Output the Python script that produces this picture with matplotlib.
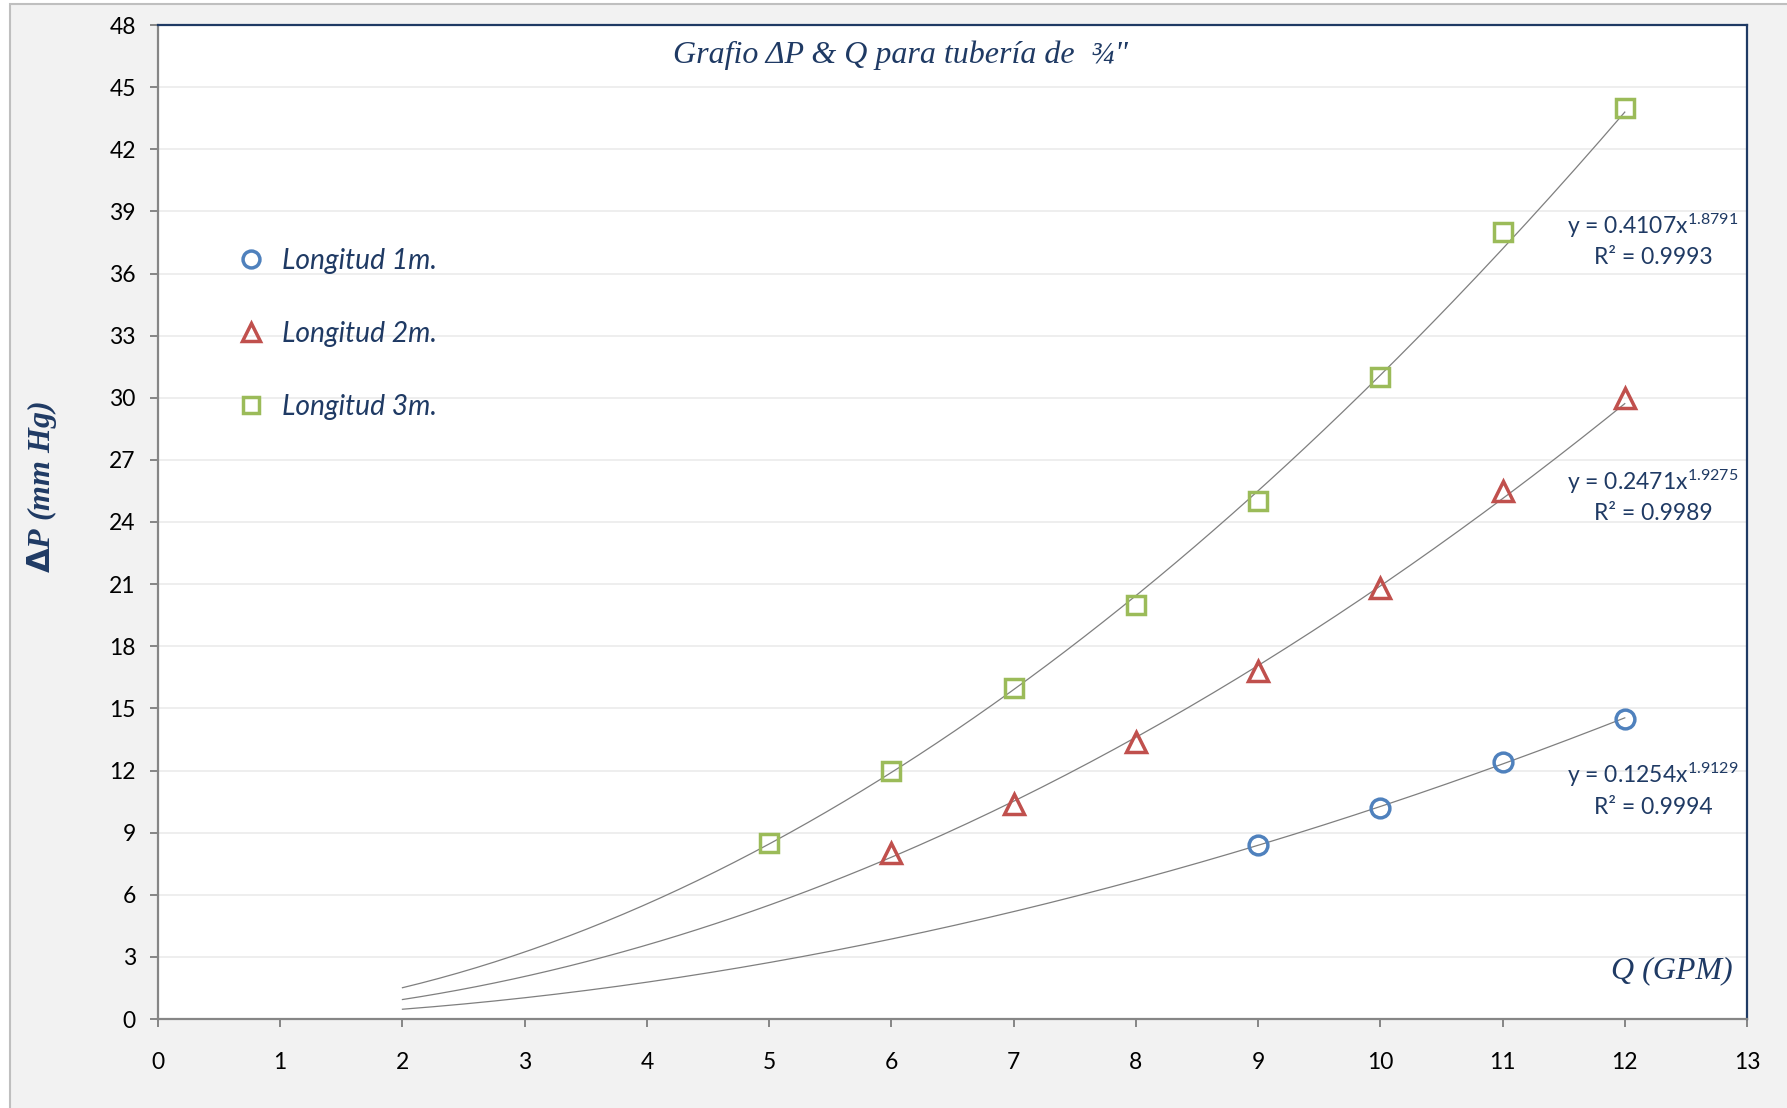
import matplotlib.pyplot as plt
import matplotlib.patches as mpatches
import numpy as np

plt.rcParams['mathtext.fontset'] = 'custom'
plt.rcParams['mathtext.rm'] = 'Lato'
plt.rcParams['mathtext.it'] = 'Lato'

# measured data
q1 = [9, 10, 11, 12]
dp1 = [8.4, 10.2, 12.4, 14.5]
q2 = [6, 7, 8, 9, 10, 11, 12]
dp2 = [8.0, 10.4, 13.4, 16.8, 20.8, 25.5, 30.0]
q3 = [5, 6, 7, 8, 9, 10, 11, 12]
dp3 = [8.5, 12.0, 16.0, 20.0, 25.0, 31.0, 38.0, 44.0]

# power trendlines shown on the chart: y = a * x^b
coef_a = [0.1254, 0.2471, 0.4107]
coef_b = [1.9129, 1.9275, 1.8791]
r2 = [0.9994, 0.9989, 0.9993]

labels = ['Longitud 1m.', 'Longitud 2m.', 'Longitud 3m.']
colors = ['#4f81bd', '#c0504d', '#9bbb59']
markers = ['o', '^', 's']
navy = '#1f3a64'

fig = plt.figure(figsize=(17.87, 11.08), dpi=100, facecolor='white')
bg = mpatches.Rectangle((10 / 1787, -0.01), 1.0, 1 - 4 / 1108 + 0.01,
                        transform=fig.transFigure, facecolor='#f2f2f2',
                        edgecolor='#bfbfbf', linewidth=1.5, zorder=-10)
fig.patches.append(bg)

ax = fig.add_axes([158 / 1787, 1 - 1019 / 1108, (1747 - 158) / 1787, (1019 - 25) / 1108])
ax.set_facecolor('white')

xs = np.linspace(2, 12, 200)
for a, b in zip(coef_a, coef_b):
    ax.plot(xs, a * xs ** b, color='#7f7f7f', lw=0.9, zorder=2)

series = [(q1, dp1), (q2, dp2), (q3, dp3)]
sizes = [13.5, 14.5, 13.5]
for (x, y), c, m, ms, lab in zip(series, colors, markers, sizes, labels):
    ax.plot(x, y, linestyle='none', marker=m, ms=ms,
            mfc='none', mec=c, mew=2.5, zorder=3, label=lab)

ax.set_xlim(0, 13)
ax.set_ylim(0, 48)
ax.set_xticks(range(0, 14))
ax.set_yticks(range(0, 49, 3))
ax.yaxis.grid(True, color='#ebebeb', lw=1.2)
ax.set_axisbelow(True)

for s in ['left', 'bottom']:
    ax.spines[s].set_color('#868686')
    ax.spines[s].set_linewidth(1.6)
for s in ['top', 'right']:
    ax.spines[s].set_color(navy)
    ax.spines[s].set_linewidth(1.6)

ax.tick_params(axis='both', direction='out', length=6, width=1.4, color='#868686',
               labelsize=16.5, labelcolor='black')
ax.tick_params(axis='y', pad=10)
ax.tick_params(axis='x', pad=18)
for t in ax.get_xticklabels() + ax.get_yticklabels():
    t.set_family('Lato')

ax.text(0.467, 0.970, 'Grafio ΔP & Q para tubería de  ¾"', transform=ax.transAxes,
        ha='center', va='center', fontsize=23, style='italic',
        family='Liberation Serif', color=navy)

ax.text(1733 / 1787, 1 - 971 / 1108, 'Q (GPM)', transform=fig.transFigure,
        ha='right', va='center', fontsize=23, style='italic',
        family='Liberation Serif', color=navy)

fig.text(42 / 1787, 1 - 487 / 1108, r'$\mathbf{\Delta}$' + 'P (mm Hg)', rotation=90,
         ha='center', va='center', fontsize=23, style='italic', weight='bold',
         family='Liberation Serif', color=navy)

leg = ax.legend(loc='upper left', bbox_to_anchor=(0.033, 0.801), frameon=False,
                prop={'family': 'Lato', 'style': 'italic', 'size': 20.3},
                labelspacing=1.66, handletextpad=0.55, handlelength=1.1,
                markerscale=0.9)
for t in leg.get_texts():
    t.set_color(navy)

# trendline equations
eq_y = [(775, 807), (482, 514), (226, 258)]
for a, b, r, (y1, y2) in zip(coef_a, coef_b, r2, eq_y):
    fig.text(1653 / 1787, 1 - y1 / 1108, 'y = %.4fx$^{%.4f}$' % (a, b),
             ha='center', va='center', fontsize=16.5, family='Lato', color=navy)
    fig.text(1653 / 1787, 1 - y2 / 1108, 'R² = %.4f' % r,
             ha='center', va='center', fontsize=16.5, family='Lato', color=navy)

fig.savefig('out.png', dpi=100, facecolor=fig.get_facecolor())
